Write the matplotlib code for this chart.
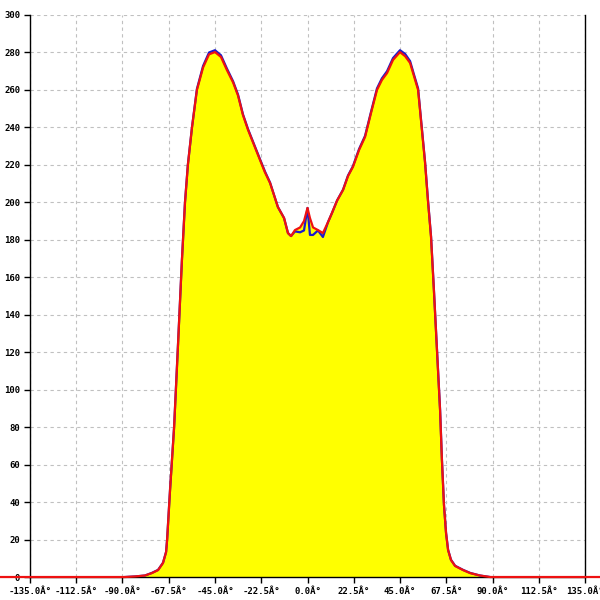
import numpy as np
import matplotlib
matplotlib.use("Agg")
import matplotlib.pyplot as plt

# angle (deg) and intensity
angles = [-180, -135, -88.8, -83.9, -79.1, -75.7, -72.7, -70.3, -68.8, -68.3, -66.9, -64.9,
          -63.0, -61.1, -59.6, -58.2, -56.2, -53.8, -50.8, -47.9, -45.0, -42.1, -39.2,
          -36.2, -33.8, -31.4, -28.9, -26.0, -23.1, -20.7, -18.2, -14.4, -11.4, -9.5,
          -8.0, -6.1, -3.6, -1.7, 0.0, 1.2, 2.7, 5.1, 7.5, 10.0, 11.9, 14.4, 17.3, 19.7,
          22.1, 25.1, 28.0, 30.9, 33.8, 36.2, 38.7, 41.6, 45.0, 47.5, 49.9, 51.8, 53.8,
          55.2, 57.2, 58.6, 60.1, 61.5, 63.0, 64.5, 65.4, 66.4, 67.4, 68.4, 69.8, 71.8,
          75.7, 79.1, 83.9, 88.8, 135, 180]

red_vals = [0, 0, 0, 0.3, 0.8, 2.1, 3.7, 7.5, 13.3, 19.8, 46, 80,
            124, 169, 200, 220, 240, 260, 272, 279, 280.2, 277.6, 270.6,
            264, 257, 246.6, 238.6, 230.6, 222.6, 216, 210.3, 197.5, 191.6, 183.6,
            182, 185.2, 186.6, 190, 197, 191.6, 186.6, 185.2, 183.6, 189.5, 194.3, 201, 206.6, 214,
            218.9, 228, 234.9, 247.7, 260, 265.3, 269, 276, 280.2, 278, 274.4, 267.4, 260,
            244, 221, 201, 181.5, 153, 121, 89, 62.5, 38.4, 23.5, 14.4, 9.1, 5.9,
            3.7, 2.1, 0.8, 0, 0, 0]

blue_vals = [0, 0, 0, 0.3, 0.8, 2.2, 3.8, 7.6, 13.4, 20.0, 46, 80,
             124, 169, 200, 220, 240, 260.5, 272.8, 280, 281.2, 278.5, 271.4,
             264.6, 257.5, 247, 239, 231, 223, 216.5, 210.5, 197.5, 191.6, 183.6,
             182, 184.5, 184, 185, 197, 182.6, 182.6, 185, 181.5, 189.5, 194.3, 201, 206.8, 214.3,
             219.3, 228.5, 235.5, 248.3, 260.8, 266.2, 270, 277, 281.2, 279.2, 275.4, 268.2, 260.8,
             244.5, 221.5, 201.3, 181.8, 153.3, 121.2, 89.2, 62.6, 38.5, 23.6, 14.5, 9.2, 6.0,
             3.8, 2.2, 0.8, 0, 0, 0]

x_ticks = np.arange(-135, 135.1, 22.5)
x_labels = [f"{v:.1f}Â°" for v in x_ticks]
y_ticks = np.arange(0, 301, 20)

fig = plt.figure(figsize=(6, 6), dpi=100)
ax = fig.add_axes([0.05, 0.0383, 0.925, 0.9367])

ax.fill_between(angles, red_vals, 0, color="#ffff00", lw=0, zorder=1)
ax.plot(angles[2:-2], blue_vals[2:-2], color="#1a1acc", lw=1.6, zorder=3)
ax.plot(angles, red_vals, color="#ee1111", lw=1.6, zorder=4, clip_on=False)

ax.set_xlim(-135, 135)
ax.set_ylim(0, 300)
ax.set_xticks(x_ticks)
ax.set_xticklabels(x_labels)
ax.set_yticks(y_ticks)
ax.grid(True, color="#c0c0c0", linestyle=(0, (3, 3)), lw=0.8, zorder=0)
ax.set_axisbelow(True)

for lab in ax.get_xticklabels() + ax.get_yticklabels():
    lab.set_family("DejaVu Sans Mono")
    lab.set_fontsize(6.5)
    lab.set_fontweight("bold")
ax.tick_params(direction="out", length=4, width=1, pad=3)

ax.spines["top"].set_visible(False)
for s in ["left", "right", "bottom"]:
    ax.spines[s].set_color("black")
    ax.spines[s].set_linewidth(1)

fig.savefig("out.png", dpi=100)
